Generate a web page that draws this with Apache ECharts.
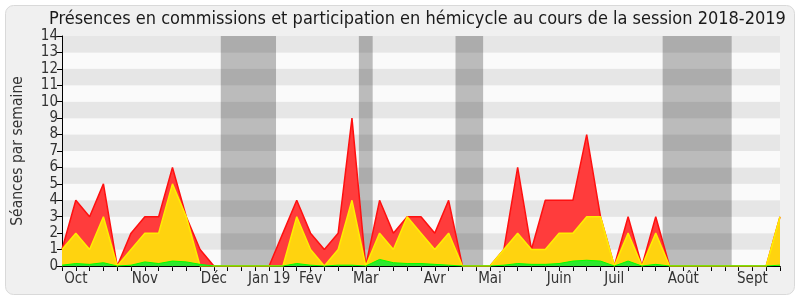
<!DOCTYPE html>
<html>
<head>
<meta charset="utf-8">
<script src="https://cdn.jsdelivr.net/npm/echarts@6/dist/echarts.min.js"></script>
<style>
html,body{margin:0;padding:0;background:#ffffff;}
#chart{width:800px;height:300px;}
</style>
</head>
<body>
<div id="chart"></div>
<script>
// Weekly values, session 2018-2019 (53 weeks, index 0 = first week of October)
var totalPresences = [1,4,3,5,0,2,3,3,6,3,1,0,0,0,0,0,2,4,2,1,2,9,0,4,2,3,3,2,4,0,0,0,1,6,1,4,4,4,8,3,0,3,0,3,0,0,0,0,0,0,0,0,3];
var hemicyclePresences = [1,2,1,3,0,1,2,2,5,3,0,0,0,0,0,0,0,3,1,0,1,4,0,2,1,3,2,1,2,0,0,0,1,2,1,1,2,2,3,3,0,2,0,2,0,0,0,0,0,0,0,0,3];
var participations = [0.05,0.15,0.1,0.2,0,0.05,0.25,0.15,0.3,0.25,0.1,0,0,0,0,0,0,0.15,0.05,0,0.05,0.05,0,0.4,0.2,0.15,0.15,0.1,0.05,0,0,0,0.05,0.15,0.1,0.1,0.15,0.3,0.35,0.3,0,0.3,0,0.1,0,0,0,0,0,0,0,0,0.05];
// Month tick labels (week index -> label)
var monthWeeks = [1,6,11,15,18,22,27,31,36,40,45,50];
var monthLabels = ['Oct','Nov','Déc','Jan 19','Fév','Mar','Avr','Mai','Juin','Juil','Août','Sept'];
// Parliamentary holiday periods (in week index units)
var holidayStarts = [11.5,21.5,28.5,43.5];
var holidayEnds = [15.5,22.5,30.5,48.5];
var yTicks = [0,1,2,3,4,5,6,7,8,9,10,11,12,13,14];

function pairs(arr){ return arr.map(function(v,i){ return [i,v]; }); }
var labelMap = {};
monthWeeks.forEach(function(w,k){ labelMap[w] = monthLabels[k]; });
var FONT = '"DejaVu Sans Condensed", "DejaVu Sans", sans-serif';

var chart = echarts.init(document.getElementById('chart'), null, {renderer:'canvas'});
var option = {
  animation:false,
  textStyle:{fontFamily:FONT},
  graphic:[{
    type:'rect', z:-10, silent:true,
    shape:{x:5.5,y:5.5,width:789,height:289,r:8},
    style:{fill:'#f0f0f0',stroke:'#d9d9d9',lineWidth:1}
  }],
  title:{
    text:'Présences en commissions et participation en hémicycle au cours de la session 2018-2019',
    left:44, top:5,
    textStyle:{fontFamily:FONT,fontSize:18,fontWeight:'normal',color:'#1a1a1a'}
  },
  grid:{left:62,right:20,top:36,bottom:34,containLabel:false},
  xAxis:[{
    type:'value', min:0, max:52, interval:1,
    axisLine:{show:true,onZero:false,lineStyle:{color:'#000',width:1}},
    axisTick:{show:true,length:5,lineStyle:{color:'#000'}},
    splitLine:{show:false},
    axisLabel:{show:true,fontSize:15,color:'#333',margin:6,fontFamily:FONT,
      formatter:function(v){ return labelMap[v] || ''; }}
  },{
    type:'value', position:'top', min:0, max:52, interval:1,
    axisLine:{show:false},
    axisTick:{show:true,inside:true,length:2,lineStyle:{color:'#333'}},
    axisLabel:{show:false}, splitLine:{show:false}
  }],
  yAxis:{
    type:'value', min:yTicks[0], max:yTicks[yTicks.length-1], interval:1,
    name:'Séances par semaine', nameLocation:'middle', nameGap:36,
    nameTextStyle:{fontSize:15.5,color:'#333',fontFamily:FONT},
    axisLine:{show:true,lineStyle:{color:'#000',width:1}},
    axisTick:{show:true,length:5,lineStyle:{color:'#000'}},
    axisLabel:{fontSize:15,color:'#333',margin:4,fontFamily:FONT},
    splitLine:{show:false},
    splitArea:{show:true,areaStyle:{color:['#fafafa','#e6e6e6']}}
  },
  series:[
    {
      type:'line', data:[], z:1, silent:true,
      markArea:{silent:true,itemStyle:{color:'rgba(0,0,0,0.25)'},
        data: holidayStarts.map(function(s,k){ return [{xAxis:s},{xAxis:holidayEnds[k]}]; })}
    },
    {
      type:'line', data:pairs(totalPresences), z:3, symbol:'none',
      lineStyle:{color:'#ff1010',width:1.5}, areaStyle:{color:'#ff3c3c',opacity:1}
    },
    {
      type:'line', data:pairs(hemicyclePresences), z:4, symbol:'none',
      lineStyle:{color:'#ffee00',width:1.5}, areaStyle:{color:'#ffd30f',opacity:1}
    },
    {
      type:'line', data:pairs(participations), z:5, symbol:'none',
      lineStyle:{color:'#00ff00',width:1}, areaStyle:{color:'#2ee82e',opacity:1}
    }
  ]
};
chart.setOption(option);
</script>
</body>
</html>
